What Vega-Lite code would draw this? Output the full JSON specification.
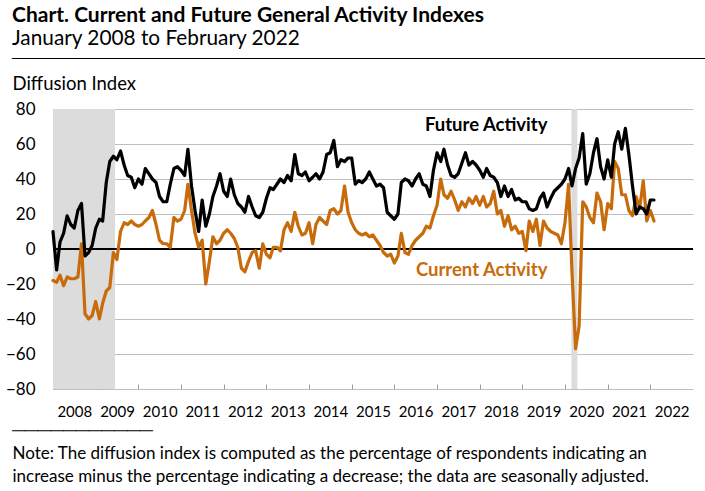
{
  "$schema": "https://vega.github.io/schema/vega-lite/v6.json",
  "width": 640,
  "height": 280,
  "autosize": "none",
  "padding": {"left": 53, "top": 109, "right": 12, "bottom": 102},
  "background": "white",
  "config": {
    "font": "Lato",
    "view": {"stroke": null},
    "axisY": {
      "values": [-80, -60, -40, -20, 0, 20, 40, 60, 80],
      "tickCount": 12,
      "labelOverlap": false,
      "grid": true,
      "gridColor": "#BFBFBF",
      "gridWidth": 1,
      "domain": false,
      "ticks": false,
      "labelPadding": 18,
      "labelFont": "Lato",
      "labelFontSize": 17,
      "labelColor": "#000000",
      "titleFont": "Lato, DejaVu Sans",
      "titleFontSize": 18.5,
      "titleFontWeight": "normal",
      "titleColor": "#000000",
      "titleAngle": 0,
      "titleAlign": "left",
      "titleBaseline": "alphabetic",
      "titleX": -41,
      "titleY": -45.6,
      "titleLineHeight": 26.6
    }
  },
  "title": {
    "text": "Chart. Current and Future General Activity Indexes",
    "subtitle": "January 2008 to February 2022",
    "anchor": "start",
    "frame": "group",
    "dx": -41,
    "offset": 0,
    "font": "Lato",
    "fontSize": 21,
    "fontWeight": "bold",
    "color": "#000000",
    "subtitleFont": "Lato",
    "subtitleFontSize": 20.8,
    "subtitleColor": "#000000",
    "subtitlePadding": 3
  },
  "datasets": {
    "series": [
      {"date": "2008-01-01", "future": 10, "current": -18},
      {"date": "2008-02-01", "future": -12, "current": -19},
      {"date": "2008-03-01", "future": 4, "current": -15},
      {"date": "2008-04-01", "future": 9, "current": -21},
      {"date": "2008-05-01", "future": 19, "current": -16},
      {"date": "2008-06-01", "future": 14, "current": -17},
      {"date": "2008-07-01", "future": 12, "current": -17},
      {"date": "2008-08-01", "future": 22, "current": -16},
      {"date": "2008-09-01", "future": 26, "current": 3},
      {"date": "2008-10-01", "future": -4, "current": -37},
      {"date": "2008-11-01", "future": -2, "current": -40},
      {"date": "2008-12-01", "future": 2, "current": -38},
      {"date": "2009-01-01", "future": 12, "current": -30},
      {"date": "2009-02-01", "future": 17, "current": -40},
      {"date": "2009-03-01", "future": 16, "current": -31},
      {"date": "2009-04-01", "future": 38, "current": -24},
      {"date": "2009-05-01", "future": 50, "current": -22},
      {"date": "2009-06-01", "future": 53, "current": -2},
      {"date": "2009-07-01", "future": 51, "current": -6},
      {"date": "2009-08-01", "future": 56, "current": 10},
      {"date": "2009-09-01", "future": 48, "current": 15},
      {"date": "2009-10-01", "future": 42, "current": 14},
      {"date": "2009-11-01", "future": 41, "current": 16},
      {"date": "2009-12-01", "future": 35, "current": 14},
      {"date": "2010-01-01", "future": 40, "current": 13},
      {"date": "2010-02-01", "future": 37, "current": 14},
      {"date": "2010-03-01", "future": 46, "current": 16},
      {"date": "2010-04-01", "future": 43, "current": 18},
      {"date": "2010-05-01", "future": 40, "current": 22},
      {"date": "2010-06-01", "future": 38, "current": 14},
      {"date": "2010-07-01", "future": 30, "current": 5},
      {"date": "2010-08-01", "future": 27, "current": 3},
      {"date": "2010-09-01", "future": 27, "current": 3},
      {"date": "2010-10-01", "future": 37, "current": 1},
      {"date": "2010-11-01", "future": 46, "current": 18},
      {"date": "2010-12-01", "future": 47, "current": 16},
      {"date": "2011-01-01", "future": 45, "current": 17},
      {"date": "2011-02-01", "future": 42, "current": 22},
      {"date": "2011-03-01", "future": 57, "current": 37},
      {"date": "2011-04-01", "future": 36, "current": 22},
      {"date": "2011-05-01", "future": 22, "current": 9},
      {"date": "2011-06-01", "future": 10, "current": 1},
      {"date": "2011-07-01", "future": 28, "current": 5},
      {"date": "2011-08-01", "future": 13, "current": -20},
      {"date": "2011-09-01", "future": 20, "current": -7},
      {"date": "2011-10-01", "future": 30, "current": 7},
      {"date": "2011-11-01", "future": 36, "current": 3},
      {"date": "2011-12-01", "future": 43, "current": 5},
      {"date": "2012-01-01", "future": 33, "current": 9},
      {"date": "2012-02-01", "future": 30, "current": 11},
      {"date": "2012-03-01", "future": 40, "current": 9},
      {"date": "2012-04-01", "future": 31, "current": 6},
      {"date": "2012-05-01", "future": 26, "current": 1},
      {"date": "2012-06-01", "future": 24, "current": -11},
      {"date": "2012-07-01", "future": 21, "current": -13},
      {"date": "2012-08-01", "future": 30, "current": -7},
      {"date": "2012-09-01", "future": 24, "current": -2},
      {"date": "2012-10-01", "future": 19, "current": -1},
      {"date": "2012-11-01", "future": 18, "current": -11},
      {"date": "2012-12-01", "future": 21, "current": 3},
      {"date": "2013-01-01", "future": 29, "current": -3},
      {"date": "2013-02-01", "future": 35, "current": -5},
      {"date": "2013-03-01", "future": 34, "current": 1},
      {"date": "2013-04-01", "future": 37, "current": 1},
      {"date": "2013-05-01", "future": 40, "current": -1},
      {"date": "2013-06-01", "future": 38, "current": 11},
      {"date": "2013-07-01", "future": 42, "current": 15},
      {"date": "2013-08-01", "future": 39, "current": 10},
      {"date": "2013-09-01", "future": 54, "current": 21},
      {"date": "2013-10-01", "future": 43, "current": 13},
      {"date": "2013-11-01", "future": 42, "current": 8},
      {"date": "2013-12-01", "future": 44, "current": 9},
      {"date": "2014-01-01", "future": 39, "current": 15},
      {"date": "2014-02-01", "future": 41, "current": 3},
      {"date": "2014-03-01", "future": 43, "current": 14},
      {"date": "2014-04-01", "future": 40, "current": 18},
      {"date": "2014-05-01", "future": 44, "current": 16},
      {"date": "2014-06-01", "future": 54, "current": 14},
      {"date": "2014-07-01", "future": 55, "current": 22},
      {"date": "2014-08-01", "future": 62, "current": 23},
      {"date": "2014-09-01", "future": 47, "current": 20},
      {"date": "2014-10-01", "future": 51, "current": 22},
      {"date": "2014-11-01", "future": 50, "current": 36},
      {"date": "2014-12-01", "future": 52, "current": 21},
      {"date": "2015-01-01", "future": 52, "current": 15},
      {"date": "2015-02-01", "future": 37, "current": 11},
      {"date": "2015-03-01", "future": 39, "current": 9},
      {"date": "2015-04-01", "future": 38, "current": 8},
      {"date": "2015-05-01", "future": 40, "current": 9},
      {"date": "2015-06-01", "future": 44, "current": 7},
      {"date": "2015-07-01", "future": 40, "current": 8},
      {"date": "2015-08-01", "future": 36, "current": 5},
      {"date": "2015-09-01", "future": 37, "current": 2},
      {"date": "2015-10-01", "future": 35, "current": -2},
      {"date": "2015-11-01", "future": 21, "current": -4},
      {"date": "2015-12-01", "future": 19, "current": -3},
      {"date": "2016-01-01", "future": 17, "current": -8},
      {"date": "2016-02-01", "future": 20, "current": -4},
      {"date": "2016-03-01", "future": 38, "current": 9},
      {"date": "2016-04-01", "future": 40, "current": -2},
      {"date": "2016-05-01", "future": 39, "current": -3},
      {"date": "2016-06-01", "future": 36, "current": 2},
      {"date": "2016-07-01", "future": 40, "current": 5},
      {"date": "2016-08-01", "future": 43, "current": 7},
      {"date": "2016-09-01", "future": 37, "current": 9},
      {"date": "2016-10-01", "future": 36, "current": 13},
      {"date": "2016-11-01", "future": 30, "current": 12},
      {"date": "2016-12-01", "future": 45, "current": 19},
      {"date": "2017-01-01", "future": 55, "current": 25},
      {"date": "2017-02-01", "future": 50, "current": 40},
      {"date": "2017-03-01", "future": 57, "current": 31},
      {"date": "2017-04-01", "future": 48, "current": 29},
      {"date": "2017-05-01", "future": 42, "current": 33},
      {"date": "2017-06-01", "future": 41, "current": 28},
      {"date": "2017-07-01", "future": 43, "current": 22},
      {"date": "2017-08-01", "future": 49, "current": 27},
      {"date": "2017-09-01", "future": 55, "current": 24},
      {"date": "2017-10-01", "future": 48, "current": 29},
      {"date": "2017-11-01", "future": 50, "current": 26},
      {"date": "2017-12-01", "future": 48, "current": 30},
      {"date": "2018-01-01", "future": 45, "current": 25},
      {"date": "2018-02-01", "future": 41, "current": 30},
      {"date": "2018-03-01", "future": 46, "current": 24},
      {"date": "2018-04-01", "future": 42, "current": 26},
      {"date": "2018-05-01", "future": 41, "current": 33},
      {"date": "2018-06-01", "future": 38, "current": 20},
      {"date": "2018-07-01", "future": 30, "current": 22},
      {"date": "2018-08-01", "future": 36, "current": 13},
      {"date": "2018-09-01", "future": 30, "current": 19},
      {"date": "2018-10-01", "future": 34, "current": 11},
      {"date": "2018-11-01", "future": 28, "current": 13},
      {"date": "2018-12-01", "future": 29, "current": 9},
      {"date": "2019-01-01", "future": 27, "current": 10},
      {"date": "2019-02-01", "future": 27, "current": -1},
      {"date": "2019-03-01", "future": 23, "current": 16},
      {"date": "2019-04-01", "future": 22, "current": 10},
      {"date": "2019-05-01", "future": 23, "current": 17},
      {"date": "2019-06-01", "future": 29, "current": 2},
      {"date": "2019-07-01", "future": 32, "current": 16},
      {"date": "2019-08-01", "future": 24, "current": 12},
      {"date": "2019-09-01", "future": 29, "current": 10},
      {"date": "2019-10-01", "future": 33, "current": 9},
      {"date": "2019-11-01", "future": 35, "current": 8},
      {"date": "2019-12-01", "future": 37, "current": 3},
      {"date": "2020-01-01", "future": 40, "current": 15},
      {"date": "2020-02-01", "future": 46, "current": 37},
      {"date": "2020-03-01", "future": 36, "current": -13},
      {"date": "2020-04-01", "future": 46, "current": -57},
      {"date": "2020-05-01", "future": 52, "current": -44},
      {"date": "2020-06-01", "future": 66, "current": 27},
      {"date": "2020-07-01", "future": 37, "current": 24},
      {"date": "2020-08-01", "future": 43, "current": 18},
      {"date": "2020-09-01", "future": 55, "current": 15},
      {"date": "2020-10-01", "future": 63, "current": 32},
      {"date": "2020-11-01", "future": 47, "current": 27},
      {"date": "2020-12-01", "future": 40, "current": 11},
      {"date": "2021-01-01", "future": 51, "current": 26},
      {"date": "2021-02-01", "future": 41, "current": 23},
      {"date": "2021-03-01", "future": 60, "current": 50},
      {"date": "2021-04-01", "future": 67, "current": 46},
      {"date": "2021-05-01", "future": 57, "current": 31},
      {"date": "2021-06-01", "future": 69, "current": 31},
      {"date": "2021-07-01", "future": 54, "current": 22},
      {"date": "2021-08-01", "future": 36, "current": 19},
      {"date": "2021-09-01", "future": 20, "current": 30},
      {"date": "2021-10-01", "future": 24, "current": 23},
      {"date": "2021-11-01", "future": 23, "current": 39},
      {"date": "2021-12-01", "future": 20, "current": 16},
      {"date": "2022-01-01", "future": 28, "current": 22},
      {"date": "2022-02-01", "future": 28, "current": 16}
    ],
    "recessions": [
      {"start": "2008-01-01", "end": "2009-06-15"},
      {"start": "2020-02-25", "end": "2020-04-16"}
    ],
    "labels": [
      {"date": "2019-08-04", "value": 71, "label": "Future Activity"},
      {"date": "2019-08-04", "value": -12, "label": "Current Activity"}
    ],
    "zero": [{"value": 0}]
  },
  "layer": [
    {
      "data": {"name": "recessions"},
      "mark": {"type": "rect", "color": "#DCDCDC"},
      "encoding": {
        "x": {
          "field": "start",
          "type": "temporal",
          "scale": {
            "type": "utc",
            "domain": [
              {"year": 2008, "month": 1, "date": 1, "utc": true},
              {"year": 2023, "month": 1, "date": 1, "utc": true}
            ]
          },
          "axis": {
            "values": [
              {"year": 2008, "month": 1, "date": 1, "utc": true},
              {"year": 2009, "month": 1, "date": 1, "utc": true},
              {"year": 2010, "month": 1, "date": 1, "utc": true},
              {"year": 2011, "month": 1, "date": 1, "utc": true},
              {"year": 2012, "month": 1, "date": 1, "utc": true},
              {"year": 2013, "month": 1, "date": 1, "utc": true},
              {"year": 2014, "month": 1, "date": 1, "utc": true},
              {"year": 2015, "month": 1, "date": 1, "utc": true},
              {"year": 2016, "month": 1, "date": 1, "utc": true},
              {"year": 2017, "month": 1, "date": 1, "utc": true},
              {"year": 2018, "month": 1, "date": 1, "utc": true},
              {"year": 2019, "month": 1, "date": 1, "utc": true},
              {"year": 2020, "month": 1, "date": 1, "utc": true},
              {"year": 2021, "month": 1, "date": 1, "utc": true},
              {"year": 2022, "month": 1, "date": 1, "utc": true}
            ],
            "tickCount": 20,
            "format": "%Y",
            "grid": false,
            "domain": false,
            "ticks": true,
            "tickColor": "#9E9E9E",
            "tickSize": -5,
            "labelOffset": 21.3,
            "labelPadding": 20,
            "labelFont": "Lato",
            "labelFontSize": 15,
            "labelColor": "#000000",
            "labelAlign": "center",
            "labelFlush": false,
            "labelOverlap": false,
            "title": [
              "───────────",
              "Note: The diffusion index is computed as the percentage of respondents indicating an",
              "increase minus the percentage indicating a decrease; the data are seasonally adjusted."
            ],
            "titleFont": "Lato, DejaVu Sans",
            "titleFontSize": 17,
            "titleFontWeight": "normal",
            "titleColor": "#000000",
            "titleAlign": "left",
            "titleAnchor": "start",
            "titleBaseline": "alphabetic",
            "titleX": -41,
            "titleY": 46,
            "titleLineHeight": 23
          }
        },
        "x2": {"field": "end"}
      }
    },
    {
      "data": {"name": "zero"},
      "mark": {"type": "rule", "color": "#000000", "strokeWidth": 2},
      "encoding": {
        "y": {
          "field": "value",
          "type": "quantitative",
          "scale": {"domain": [-80, 80], "nice": false, "zero": false},
          "axis": {
            "values": [-80, -60, -40, -20, 0, 20, 40, 60, 80],
            "tickCount": 12,
            "title": ["─────────────────────────────────────────────────────────────", "Diffusion Index"]
          }
        }
      }
    },
    {
      "data": {"name": "series"},
      "mark": {"type": "line", "color": "#C76B0B", "strokeWidth": 3.2, "strokeJoin": "round", "strokeCap": "round"},
      "encoding": {
        "x": {"field": "date", "type": "temporal"},
        "y": {"field": "current", "type": "quantitative"}
      }
    },
    {
      "data": {"name": "series"},
      "mark": {"type": "line", "color": "#000000", "strokeWidth": 3.2, "strokeJoin": "round", "strokeCap": "round"},
      "encoding": {
        "x": {"field": "date", "type": "temporal"},
        "y": {"field": "future", "type": "quantitative"}
      }
    },
    {
      "data": {"name": "labels"},
      "mark": {"type": "text", "align": "right", "baseline": "middle", "font": "Lato", "fontSize": 18.5, "fontWeight": "bold"},
      "encoding": {
        "x": {"field": "date", "type": "temporal"},
        "y": {"field": "value", "type": "quantitative"},
        "text": {"field": "label"},
        "color": {
          "field": "label",
          "type": "nominal",
          "scale": {"domain": ["Future Activity", "Current Activity"], "range": ["#000000", "#C76B0B"]},
          "legend": null
        }
      }
    }
  ]
}
